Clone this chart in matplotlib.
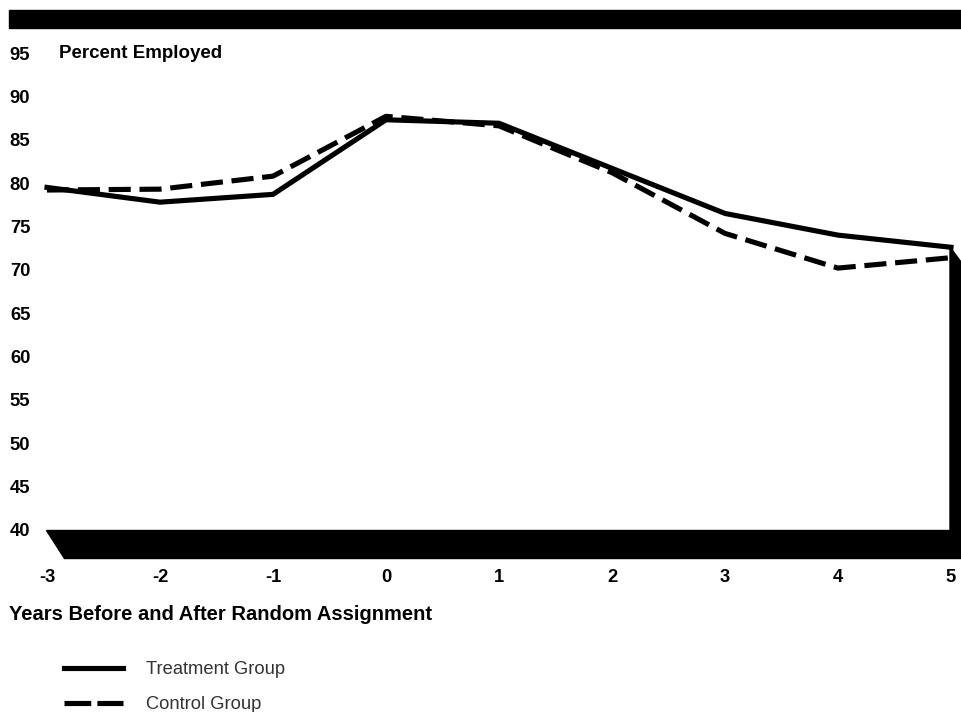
import matplotlib
matplotlib.use("Agg")
import matplotlib.pyplot as plt
from matplotlib.patches import Polygon, Rectangle
from matplotlib.lines import Line2D

years = [-3, -2, -1, 0, 1, 2, 3, 4, 5]
treatment = [79.5, 77.8, 78.7, 87.3, 86.9, 81.7, 76.5, 74.0, 72.6]
control = [79.2, 79.3, 80.8, 87.7, 86.6, 81.2, 74.2, 70.2, 71.4]
yticks = [40, 45, 50, 55, 60, 65, 70, 75, 80, 85, 90, 95]
xtick_labels = ["-3", "-2", "-1", "0", "1", "2", "3", "4", "5"]

plt.rcParams['font.family'] = ['Liberation Sans', 'DejaVu Sans']
plt.rcParams['axes.unicode_minus'] = False

W, H = 961, 712
fig = plt.figure(figsize=(W / 100, H / 100), dpi=100)

def fx(px):
    return px / W

def fy(py):
    return 1 - py / H

ax = fig.add_axes([fx(47), fy(530), fx(951) - fx(47), fy(53) - fy(530)])
ax.set_xlim(-3, 5)
ax.set_ylim(40, 95)
for s in ax.spines.values():
    s.set_visible(False)

# decorative frame (figure-pixel coordinates)
fig.patches.append(Rectangle((fx(9), fy(28)), 1 - fx(9), fy(10) - fy(28),
                             transform=fig.transFigure, color='black', zorder=0))
fig.patches.append(Polygon([(fx(46), fy(530)), (fx(961), fy(530)), (fx(961), fy(558)), (fx(64), fy(558))],
                           closed=True, transform=fig.transFigure, color='black', zorder=0))
fig.patches.append(Polygon([(fx(950), fy(247)), (fx(961), fy(262)), (fx(961), fy(558)), (fx(950), fy(558))],
                           closed=True, transform=fig.transFigure, color='black', zorder=0))

FS = 13.2

lt, = ax.plot(years, treatment, color='black', lw=3.7, solid_joinstyle='miter',
              label='Treatment Group', clip_on=False)
lc, = ax.plot(years, control, color='black', lw=3.7, dashes=(4.3, 1.7),
              label='Control Group', clip_on=False)

ax.set_yticks(yticks)
ax.set_yticklabels([str(v) for v in yticks], fontsize=FS, fontweight='bold')
ax.set_xticks(years)
ax.set_xticklabels(xtick_labels, fontsize=FS, fontweight='bold')
ax.tick_params(axis='y', length=0, pad=12)
ax.tick_params(axis='x', length=0, pad=28)

fig.text(fx(59), fy(53), 'Percent Employed', fontsize=FS + 0.3, fontweight='bold', va='center', ha='left')
fig.text(fx(9), fy(614), 'Years Before and After Random Assignment', fontsize=FS + 1.3,
         fontweight='bold', va='center', ha='left')

h1 = Line2D([], [], color='black', lw=3.7)
h2 = Line2D([], [], color='black', lw=3.7, dashes=(5.2, 1.2))
leg = fig.legend([h1, h2], ['Treatment Group', 'Control Group'], loc='upper left',
                 bbox_to_anchor=(fx(64), fy(661)), frameon=False, fontsize=FS,
                 handlelength=3.2, handletextpad=1.25, labelspacing=1.0,
                 borderpad=0, borderaxespad=0)
for t in leg.get_texts():
    t.set_color('#333333')

fig.savefig('out.png', dpi=100)
